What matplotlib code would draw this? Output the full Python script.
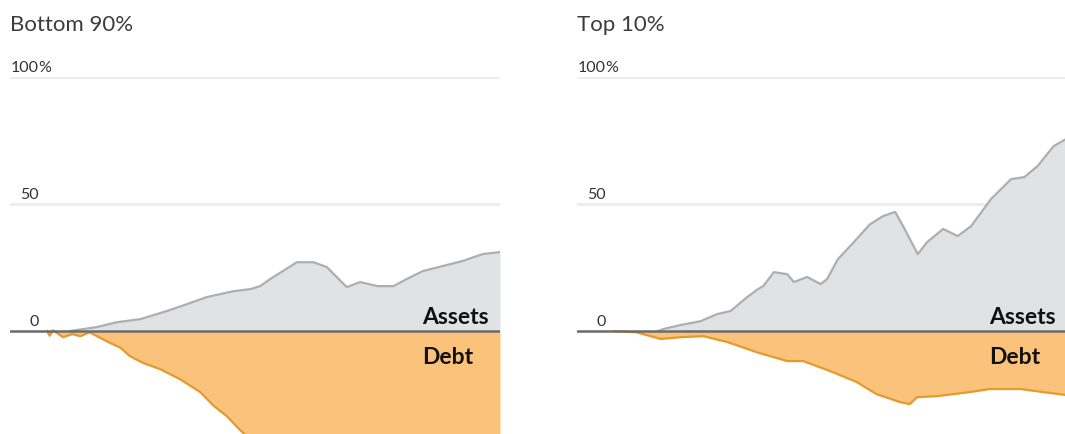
import matplotlib
matplotlib.use("Agg")
import matplotlib.pyplot as plt

# ---- data (percent change) ----
bottom_asset_years = [1991.2, 1993.25, 1994.75, 1996.5, 1998.5, 2000.0, 2001.5, 2003.5, 2004.75,
                      2005.5, 2006.25, 2007.2, 2008.25, 2009.5, 2010.5, 2012.0, 2013.0, 2014.3,
                      2015.5, 2016.5, 2017.7, 2019.2, 2020.7, 2022.2, 2023.5]
bottom_assets = [0, 1.6, 3.5, 4.7, 7.9, 10.6, 13.4, 15.7, 16.5,
                 17.7, 20.5, 23.6, 27.1, 27.1, 25.2, 17.3, 19.3, 17.7,
                 17.7, 20.5, 23.6, 25.6, 27.6, 30.3, 31.1]

bottom_debt_years = [1989.5, 1989.7, 1989.95, 1990.7, 1991.4, 1992.0, 1992.7, 1993.25, 1994.2,
                     1995.0, 1995.7, 1996.7, 1998.0, 1999.5, 2001.0, 2002.0, 2003.0, 2004.0,
                     2005.5, 2009.2, 2016.8, 2023.5]
bottom_debt = [0, -1.8, 0.3, -2.4, -1.2, -2, -0.5, -2, -4.6,
               -6.5, -9.8, -12.5, -15, -19, -24, -29.4, -33.5, -39,
               -46, -60, -70, -75]

top_asset_years = [1992.8, 1993.2, 1994.5, 1996.0, 1997.25, 1998.25, 1999.5, 2000.3, 2000.7,
                   2001.5, 2002.5, 2003.0, 2004.0, 2005.0, 2005.5, 2006.3, 2007.5, 2008.7,
                   2009.7, 2010.6, 2011.2, 2012.3, 2013.0, 2014.2, 2015.3, 2016.3, 2017.8,
                   2019.3, 2020.3, 2021.3, 2022.5, 2023.5]
top_assets = [0, 0.8, 2.4, 3.9, 6.7, 7.9, 13.4, 16.5, 17.7,
              23.2, 22.4, 19.3, 21.3, 18.5, 20.5, 28.3, 35, 42,
              45.3, 46.9, 41.3, 30.3, 35, 40.2, 37.4, 41.3, 52,
              59.8, 60.6, 65, 72.8, 75.8]

top_debt_years = [1989.5, 1991.2, 1993.0, 1994.5, 1996.2, 1998.0, 2000.2, 2002.5, 2003.7,
                  2005.7, 2007.7, 2009.2, 2011.0, 2011.7, 2012.25, 2013.75, 2016.2, 2017.7,
                  2020.0, 2021.7, 2023.5]
top_debt = [0, -0.5, -3.1, -2.4, -2, -4.3, -8.3, -11.8, -11.8,
            -15.7, -20, -24.8, -28, -28.7, -26, -25.6, -24, -22.8,
            -22.8, -24, -25.2]

titles = ["Bottom 90%", "Top 10%"]
tick_values = [0, 50, 100]
tick_labels = ["0", "50", "100"]
label_assets = "Assets"
label_debt = "Debt"

panels = [
    (titles[0], bottom_asset_years, bottom_assets, bottom_debt_years, bottom_debt),
    (titles[1], top_asset_years, top_assets, top_debt_years, top_debt),
]

# ---- style ----
FONT = "Lato"
ASSET_FILL = "#e1e2e4"
ASSET_LINE = "#aeaeae"
DEBT_FILL = "#fbc27c"
DEBT_LINE = "#e59a2c"
GRID = "#ececec"
ZERO = "#6b6b6b"
TEXT = "#333333"

W, H = 1065, 435
fig = plt.figure(figsize=(W / 100, H / 100), dpi=100)

XMIN, XMAX = 1986.72, 2023.5
YMIN, YMAX = -40.5, 100

lefts = [10, 577]
for (title, ay, av, dy, dv), lx in zip(panels, lefts):
    ax = fig.add_axes([lx / W, 0, 490 / W, (435 - 78) / H])
    ax.set_xlim(XMIN, XMAX)
    ax.set_ylim(YMIN, YMAX)
    ax.axis("off")
    for t in tick_values[1:]:
        ax.axhline(t, color=GRID, lw=2, zorder=1)
    ax.fill_between(ay, 0, av, color=ASSET_FILL, lw=0, zorder=2)
    ax.plot(ay, av, color=ASSET_LINE, lw=1.6, zorder=3)
    ax.fill_between(dy, dv, 0, color=DEBT_FILL, lw=0, zorder=2)
    ax.plot(dy, dv, color=DEBT_LINE, lw=1.6, zorder=3)
    ax.axhline(0, color=ZERO, lw=1.8, zorder=4)

    # tick labels: numbers right aligned, % hangs after
    for t, lab in zip(tick_values, tick_labels):
        ax.annotate(lab, xy=(0, t), xycoords=("axes fraction", "data"),
                    xytext=(29, 3), textcoords="offset pixels",
                    ha="right", va="bottom", fontsize=11.5, color=TEXT, family=FONT)
    ax.annotate("%", xy=(0, 100), xycoords=("axes fraction", "data"),
                xytext=(28, 3), textcoords="offset pixels",
                ha="left", va="bottom", fontsize=11.5, color=TEXT, family=FONT)

    ax.annotate(label_assets, xy=(0, 0), xycoords=("axes fraction", "data"),
                xytext=(479, 4), textcoords="offset pixels",
                ha="right", va="bottom", fontsize=16.5, fontweight="bold",
                color="#111111", family=FONT)
    ax.annotate(label_debt, xy=(0, 0), xycoords=("axes fraction", "data"),
                xytext=(412, -25), textcoords="offset pixels",
                ha="left", va="center", fontsize=16.5, fontweight="bold",
                color="#111111", family=FONT)

    fig.text((lx) / W, 1 - 25 / H, title, ha="left", va="center",
             fontsize=16, color="#3c3c3c", family=FONT)

fig.savefig("out.png", dpi=100)
